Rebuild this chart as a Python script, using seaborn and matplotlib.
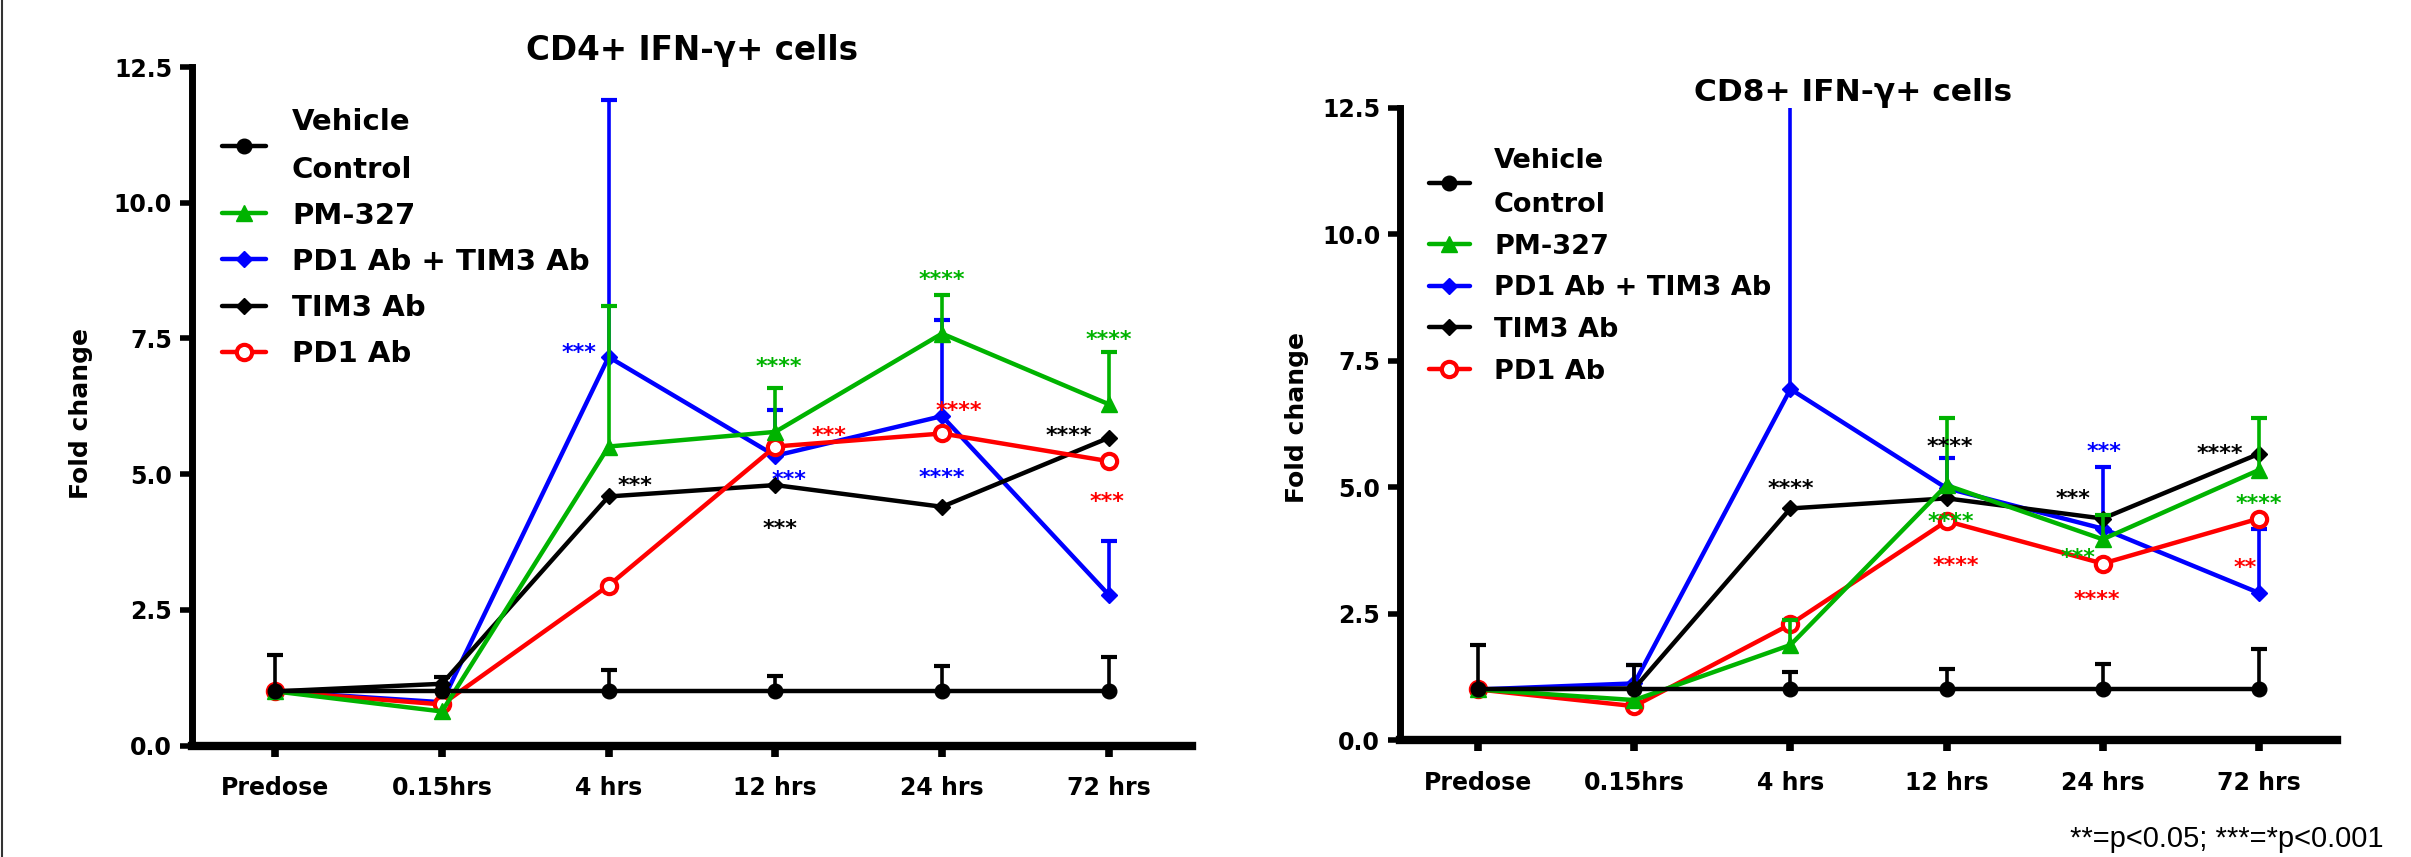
import numpy as np
import matplotlib
matplotlib.use("Agg")
import matplotlib.pyplot as plt
import matplotlib.transforms as mtransforms
from matplotlib.lines import Line2D
import seaborn as sns

timepoints = ["Predose", "0.15hrs", "4 hrs", "12 hrs", "24 hrs", "72 hrs"]
group_names = ["Vehicle\nControl", "PM-327", "PD1 Ab + TIM3 Ab", "TIM3 Ab", "PD1 Ab"]
group_colors = ["#000000", "#00b300", "#0000ff", "#000000", "#ff0000"]

# CD4+ IFN-g+ cells, fold change (mean) and upper error
cd4_vehicle = [1.0, 1.0, 1.0, 1.0, 1.0, 1.0]
cd4_vehicle_err = [0.67, 0.27, 0.39, 0.29, 0.46, 0.63]
cd4_pm327 = [1.0, 0.63, 5.51, 5.78, 7.59, 6.29]
cd4_pm327_err = [0, 0, 2.59, 0.81, 0.71, 0.96]
cd4_combo = [1.0, 0.80, 7.16, 5.34, 6.07, 2.78]
cd4_combo_err = [0, 0, 4.73, 0.84, 1.77, 0.99]
cd4_tim3 = [1.0, 1.14, 4.59, 4.80, 4.40, 5.67]
cd4_tim3_err = [0, 0, 0, 0, 0, 0]
cd4_pd1 = [1.0, 0.76, 2.95, 5.51, 5.75, 5.24]
cd4_pd1_err = [0, 0, 0, 0, 0, 0]

# CD8+ IFN-g+ cells
cd8_vehicle = [1.0, 1.0, 1.0, 1.0, 1.0, 1.0]
cd8_vehicle_err = [0.87, 0.48, 0.35, 0.40, 0.51, 0.80]
cd8_pm327 = [1.0, 0.79, 1.88, 5.04, 3.97, 5.34]
cd8_pm327_err = [0, 0, 0.49, 1.33, 0.49, 1.03]
cd8_combo = [1.0, 1.12, 6.94, 4.98, 4.18, 2.91]
cd8_combo_err = [0, 0.36, 6.1, 0.60, 1.21, 1.26]
cd8_tim3 = [1.0, 1.02, 4.58, 4.78, 4.38, 5.66]
cd8_tim3_err = [0, 0, 0, 0, 0, 0]
cd8_pd1 = [1.0, 0.67, 2.29, 4.33, 3.49, 4.38]
cd8_pd1_err = [0, 0, 0, 0, 0, 0]

# significance stars: text, x (timepoint index), y, group index (for colour)
cd4_star_text = ["***", "****", "***", "***", "***", "***", "****", "****", "****", "****", "****", "***"]
cd4_star_x = [1.82, 3.02, 3.32, 3.08, 2.16, 3.03, 4.0, 4.10, 4.0, 4.76, 5.0, 4.99]
cd4_star_y = [7.35, 7.09, 5.83, 5.02, 4.91, 4.11, 8.69, 6.29, 5.05, 5.83, 7.59, 4.60]
cd4_star_group = [2, 1, 4, 2, 3, 3, 1, 4, 2, 3, 1, 4]

cd8_star_text = ["****", "***", "****", "****", "***", "****", "****", "***", "****", "**", "****"]
cd8_star_x = [3.02, 4.01, 4.75, 2.0, 3.81, 5.0, 3.03, 3.84, 3.06, 4.91, 3.96]
cd8_star_y = [5.93, 5.83, 5.78, 5.09, 4.90, 4.79, 4.45, 3.73, 3.58, 3.54, 2.90]
cd8_star_group = [3, 2, 3, 3, 3, 1, 1, 1, 4, 4, 4]

footnote = "**=p<0.05; ***=*p<0.001"

styles = [
    dict(marker="o", ms=10.5, mfc="#000000", mew=1, z=6),
    dict(marker="^", ms=12, mfc="#00b300", mew=1, z=5),
    dict(marker="D", ms=8, mfc="#0000ff", mew=1, z=2),
    dict(marker="D", ms=8, mfc="#000000", mew=1, z=3),
    dict(marker="o", ms=11, mfc="white", mew=3, z=4),
]

sns.set_style("ticks")
plt.rcParams["font.family"] = ["DejaVu Sans"]
plt.rcParams["font.weight"] = "bold"
plt.rcParams["text.color"] = "black"
plt.rcParams["axes.edgecolor"] = "black"
plt.rcParams["axes.labelcolor"] = "black"
plt.rcParams["xtick.color"] = "black"
plt.rcParams["ytick.color"] = "black"


def draw_panel(ax, means, errs, star_text, star_x, star_y, star_group,
               title, title_size, title_x, legend_size, legend_spacing, legend_anchor, ylab_xy):
    for i, name in enumerate(group_names):
        st = styles[i]
        col = group_colors[i]
        sns.lineplot(x=timepoints, y=means[i], ax=ax, color=col, label=name, sort=False,
                     marker=st["marker"], markersize=st["ms"], markerfacecolor=st["mfc"],
                     markeredgecolor=col, markeredgewidth=st["mew"], linewidth=3.2,
                     zorder=st["z"])
        e = np.asarray(errs[i], dtype=float)
        m = np.asarray(means[i], dtype=float)
        keep = e > 0
        if keep.any():
            xs = [t for t, k in zip(timepoints, keep) if k]
            ax.errorbar(xs, m[keep], yerr=[np.zeros(keep.sum()), e[keep]], fmt="none",
                        ecolor=col, elinewidth=2.6, capsize=0, zorder=st["z"] - 0.5)
            ax.plot(xs, m[keep] + e[keep], ls="none", marker="_", ms=12, mew=3,
                    color=col, zorder=st["z"] - 0.5)

    tr = mtransforms.offset_copy(ax.transData, fig=ax.figure, y=-9, units="points")
    for s, x, y, g in zip(star_text, star_x, star_y, star_group):
        ax.text(x, y, s, transform=tr, ha="center", va="baseline", fontsize=16,
                fontweight="bold", color=group_colors[g], zorder=8)

    ax.set_xlim(-0.5, 5.5)
    ax.set_ylim(0, 12.5)
    yt = [0, 2.5, 5.0, 7.5, 10.0, 12.5]
    ax.set_yticks(yt)
    ax.set_yticklabels([f"{v:.1f}" for v in yt])
    ax.set_xlabel("")
    ax.set_ylabel("Fold change", fontsize=18, fontweight="bold")
    ax.yaxis.set_label_coords(*ylab_xy)
    ax.set_title(title, fontsize=title_size, fontweight="bold", pad=1, x=title_x)

    sns.despine(ax=ax)
    ax.spines["left"].set_linewidth(5)
    ax.spines["bottom"].set_linewidth(6)
    ax.tick_params(axis="y", length=8.3, width=4, pad=6, labelsize=17)
    ax.tick_params(axis="x", length=8, width=5.5, pad=14, labelsize=17)
    for lab in ax.get_xticklabels() + ax.get_yticklabels():
        lab.set_fontweight("bold")

    leg = ax.legend(loc="upper left", bbox_to_anchor=legend_anchor, frameon=False,
                    prop={"size": legend_size, "weight": "bold"}, handlelength=1.5,
                    handletextpad=0.9, labelspacing=legend_spacing, borderpad=0,
                    borderaxespad=0)
    leg.get_texts()[0].set_linespacing(1.9)


fig = plt.figure(figsize=(24.11, 8.57), dpi=100)
ax1 = fig.add_axes([0.0796, 0.1299, 0.4148, 0.7919])
ax2 = fig.add_axes([0.5807, 0.1365, 0.3886, 0.7375])

draw_panel(ax1,
           [cd4_vehicle, cd4_pm327, cd4_combo, cd4_tim3, cd4_pd1],
           [cd4_vehicle_err, cd4_pm327_err, cd4_combo_err, cd4_tim3_err, cd4_pd1_err],
           cd4_star_text, cd4_star_x, cd4_star_y, cd4_star_group,
           "CD4+ IFN-γ+ cells", 23.5, 0.5, 21, 0.62, (0.03, 0.94), (-0.099, 0.49))
draw_panel(ax2,
           [cd8_vehicle, cd8_pm327, cd8_combo, cd8_tim3, cd8_pd1],
           [cd8_vehicle_err, cd8_pm327_err, cd8_combo_err, cd8_tim3_err, cd8_pd1_err],
           cd8_star_text, cd8_star_x, cd8_star_y, cd8_star_group,
           "CD8+ IFN-γ+ cells", 22.5, 0.484, 19.5, 0.58, (0.031, 0.937), (-0.097, 0.51))

fig.text(2070 / 2411, 1 - 839 / 857, footnote, fontsize=21, fontweight="normal",
         family=["Liberation Sans", "DejaVu Sans"], ha="left", va="center")
fig.add_artist(Line2D([0.0008, 0.0008], [0, 1], transform=fig.transFigure,
                      color="#333333", lw=1.5))

fig.savefig("out.png", dpi=100)
